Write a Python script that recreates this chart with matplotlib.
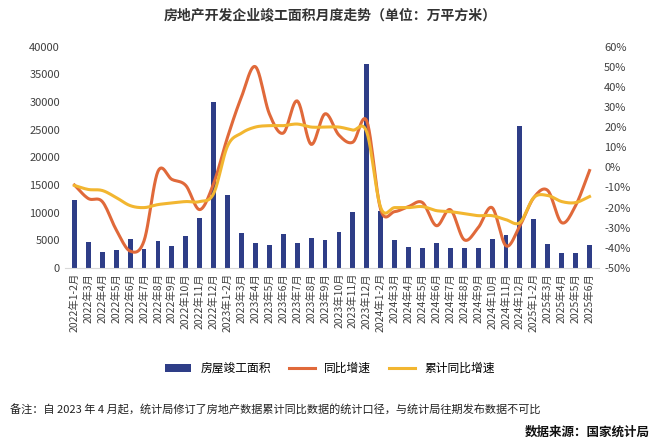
import numpy as np
import matplotlib
matplotlib.use("Agg")
import matplotlib.pyplot as plt
from matplotlib.ticker import FuncFormatter

plt.rcParams["font.family"] = ["Noto Sans CJK SC", "DejaVu Sans"]

months = []
for y, ms in [(2022, range(3, 13)), (2023, range(3, 13)), (2024, range(3, 13)), (2025, range(3, 7))]:
    months.append(f"{y}年1-2月")
    months += [f"{y}年{m}月" for m in ms]

area = [12200, 4700, 2900, 3300, 5200, 3500, 4900, 4000, 5800, 9000, 30000,
        13100, 6300, 4500, 4200, 6100, 4600, 5400, 5000, 6500, 10100, 36800,
        10300, 5000, 3800, 3600, 4500, 3600, 3700, 3600, 5300, 6000, 25700,
        8800, 4400, 2700, 2800, 4200]
yoy = [-8.8, -15.5, -17, -31, -41.6, -36.5, -2, -6, -9, -21, -8,
       15, 35, 50, 26.6, 17, 33, 11.4, 26.6, 16, 12.5, 23,
       -21, -22, -19.5, -17.5, -29, -21, -36, -30, -20, -39, -29,
       -15, -11.5, -27.5, -19, -1.6]
cum = [-9, -11, -11.5, -15, -19, -20, -18.5, -17.7, -17, -17, -13,
       10.6, 17, 20, 20.7, 20.7, 21.5, 20, 20, 20, 18.5, 17.5,
       -20, -20, -20, -19.5, -21.5, -22, -23, -24, -24, -26, -27.4,
       -15, -14, -17, -17.5, -14.5]

def smooth(y, n=12):
    y = np.asarray(y, float)
    p = np.concatenate([[2*y[0]-y[1]], y, [2*y[-1]-y[-2]]])
    xs, ys = [], []
    for i in range(len(y)-1):
        p0, p1, p2, p3 = p[i], p[i+1], p[i+2], p[i+3]
        t = np.linspace(0, 1, n, endpoint=False)
        ys.append(0.5*((2*p1) + (-p0+p2)*t + (2*p0-5*p1+4*p2-p3)*t**2 + (-p0+3*p1-3*p2+p3)*t**3))
        xs.append(i + t)
    xs.append([len(y)-1]); ys.append([y[-1]])
    return np.concatenate(xs), np.concatenate(ys)

fig = plt.figure(figsize=(6.6, 4.43), dpi=100)
ax = fig.add_axes([0.098, 0.395, 0.81, 0.5])
x = np.arange(len(months))
b = ax.bar(x, area, width=0.35, color="#2E3D87", label="房屋竣工面积")
ax.set_ylim(0, 40000)
ax.set_yticks(range(0, 40001, 5000))
ax.set_xlim(-0.7, len(months)-0.3)
ax.set_xticks(x)
ax.set_xticklabels(months, rotation=90, fontsize=7.5, color="#404040")
ax.tick_params(axis="both", length=0, labelsize=8, colors="#404040")
ax.tick_params(axis="x", labelsize=7.5)
for s in ["top", "right", "left"]:
    ax.spines[s].set_visible(False)
ax.spines["bottom"].set_color("#d9d9d9")

ax2 = ax.twinx()
sx, sy = smooth(yoy)
l1, = ax2.plot(sx, sy, color="#E0693A", lw=2.2, label="同比增速")
sx, sy = smooth(cum)
l2, = ax2.plot(sx, sy, color="#F2B630", lw=2.2, label="累计同比增速")
ax2.set_ylim(-50, 60)
ax2.set_yticks(range(-50, 61, 10))
ax2.yaxis.set_major_formatter(FuncFormatter(lambda v, p: f"{int(v)}%"))
ax2.tick_params(length=0, labelsize=8, colors="#404040")
for s in ax2.spines.values():
    s.set_visible(False)

fig.text(0.5, 0.965, "房地产开发企业竣工面积月度走势（单位：万平方米）", ha="center", va="center",
         fontsize=10, fontweight="bold", color="#333333")
fig.legend([b, l1, l2], ["房屋竣工面积", "同比增速", "累计同比增速"], loc="center",
           bbox_to_anchor=(0.5, 0.168), ncol=3, frameon=False, fontsize=8.5, handlelength=2.2,
           columnspacing=1.5)
fig.text(0.015, 0.075, "备注：自 2023 年 4 月起，统计局修订了房地产数据累计同比数据的统计口径，与统计局往期发布数据不可比",
         fontsize=8, va="center", color="#222222")
fig.text(0.985, 0.025, "数据来源：国家统计局", fontsize=9, fontweight="bold", ha="right", va="center",
         color="#111111")
fig.savefig("out.png", dpi=100)
